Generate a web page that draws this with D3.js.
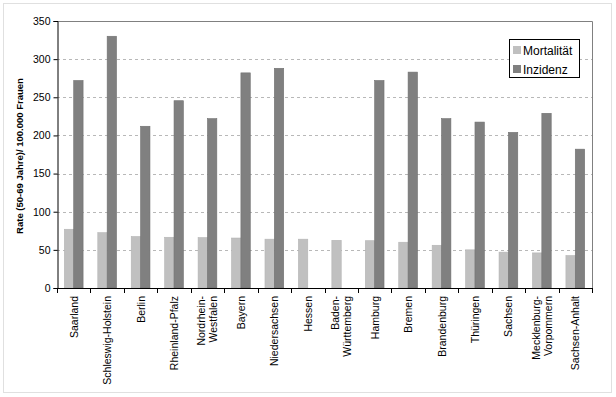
<!DOCTYPE html>
<html>
  <head>
    <meta charset="utf-8">
    <script src="https://d3js.org/d3.v7.min.js"></script>
    <style>
      body { margin: 0; background: #fff; }
      svg { font-family: "Liberation Sans", Arial, sans-serif; }
    </style>
  </head>
  <body>
    <div id="chart"></div>
    <script>
      // Bundesländer, ordered as in the source
      var categories = ["Saarland", "Schleswig-Holstein", "Berlin", "Rheinland-Pfalz",
        "Nordrhein-\nWestfalen", "Bayern", "Niedersachsen", "Hessen",
        "Baden-\nWürttemberg", "Hamburg", "Bremen", "Brandenburg", "Thüringen",
        "Sachsen", "Mecklenburg-\nVorpommern", "Sachsen-Anhalt"];
      var mortalitaet = [77, 72.5, 67.5, 66.5, 66, 65.5, 64, 64, 62.5, 62, 60, 56, 50, 47, 46, 42.5];
      // null = no incidence data
      var inzidenz = [272, 330, 212, 245.5, 222, 282, 288, null, null, 272, 283, 222, 217.5, 204, 229, 182];
      var seriesNames = ["Mortalität", "Inzidenz"];
      var yTicks = [0, 50, 100, 150, 200, 250, 300, 350];
      var yLabel = "Rate (50-69 Jahre)/ 100.000 Frauen";

      var W = 616, H = 397;
      // plot area (note: "top" is reserved on window, so use plot* names)
      var plotL = 57, plotR = 592, plotT = 21, plotB = 288;
      var colors = ["#c0c0c0", "#808080"];

      var svg = d3.select("#chart").append("svg").attr("width", W).attr("height", H);

      // outer chart border
      svg.append("rect").attr("x", 3.5).attr("y", 3.5).attr("width", 608).attr("height", 389)
        .attr("fill", "#fff").attr("stroke", "#e0e0e0");

      var x = d3.scaleBand().domain(d3.range(categories.length)).range([plotL, plotR]);
      var y = d3.scaleLinear().domain([0, 350]).range([plotB, plotT]);
      var barW = x.bandwidth() * 0.28;

      // grid lines
      svg.append("g").selectAll("line").data(yTicks.filter(function (t) { return t > 0 && t < 350; }))
        .enter().append("line")
        .attr("x1", plotL).attr("x2", plotR)
        .attr("y1", function (d) { return Math.round(y(d)) + 0.5; })
        .attr("y2", function (d) { return Math.round(y(d)) + 0.5; })
        .attr("stroke", "#b8b8b8").attr("stroke-dasharray", "3,3");

      // plot frame top/right
      svg.append("path")
        .attr("d", "M" + plotL + "," + (plotT + 0.5) + "H" + (plotR + 0.5) + "V" + plotB)
        .attr("fill", "none").attr("stroke", "#808080");

      var data = [];
      categories.forEach(function (c, i) {
        data.push({i: i, s: 0, v: mortalitaet[i]});
        if (inzidenz[i] != null) data.push({i: i, s: 1, v: inzidenz[i]});
      });

      svg.append("g").selectAll("rect").data(data).enter().append("rect")
        .attr("x", function (d) { return x(d.i) + x.bandwidth() / 2 - barW + d.s * barW; })
        .attr("y", function (d) { return y(d.v); })
        .attr("width", barW)
        .attr("height", function (d) { return plotB - y(d.v); })
        .attr("fill", function (d) { return colors[d.s]; })
        .attr("stroke", function (d) { return d.s ? "#707070" : "#b4b4b4"; })
        .attr("stroke-width", 0.6);

      // y axis
      var yAxis = svg.append("g").attr("transform", "translate(" + (plotL + 0.5) + ",0)")
        .call(d3.axisLeft(y).tickValues(yTicks).tickSize(4).tickPadding(3));
      yAxis.select(".domain").attr("stroke", "#000");
      yAxis.selectAll("line").attr("stroke", "#000");
      yAxis.selectAll("text").attr("font-size", 10.5).attr("fill", "#000")
        .attr("font-family", "Liberation Sans, Arial, sans-serif");

      // x axis line with ticks between categories
      svg.append("line").attr("x1", plotL).attr("x2", plotR + 1)
        .attr("y1", plotB + 0.5).attr("y2", plotB + 0.5).attr("stroke", "#000");
      svg.append("g").selectAll("line").data(d3.range(categories.length + 1)).enter().append("line")
        .attr("x1", function (i) { return Math.round(plotL + i * x.step()) + 0.5; })
        .attr("x2", function (i) { return Math.round(plotL + i * x.step()) + 0.5; })
        .attr("y1", plotB).attr("y2", plotB + 5).attr("stroke", "#000");

      // category labels, rotated
      var lab = svg.append("g").selectAll("text").data(categories).enter().append("text")
        .attr("transform", function (d, i) {
          return "translate(" + (x(i) + x.bandwidth() / 2) + "," + (plotB + 8) + ") rotate(-90)";
        })
        .attr("text-anchor", "end").attr("font-size", 10.5).attr("fill", "#000");
      lab.each(function (d) {
        var lines = d.split("\n");
        var t = d3.select(this);
        lines.forEach(function (ln, k) {
          t.append("tspan").attr("x", 0)
            .attr("y", (k - (lines.length - 1) / 2) * 12 + 4)
            .text(ln);
        });
      });

      // y label
      svg.append("text")
        .attr("transform", "translate(23," + 156 + ") rotate(-90)")
        .attr("text-anchor", "middle").attr("font-size", 9.5).attr("font-weight", "bold")
        .text(yLabel);

      // legend
      var lg = svg.append("g").attr("transform", "translate(509,39)");
      lg.append("rect").attr("x", 0.5).attr("y", 0.5).attr("width", 70).attr("height", 38)
        .attr("fill", "#fff").attr("stroke", "#000");
      seriesNames.forEach(function (n, k) {
        lg.append("rect").attr("x", 4).attr("y", 7 + k * 19).attr("width", 8).attr("height", 8)
          .attr("fill", colors[k]);
        lg.append("text").attr("x", 14).attr("y", 15.5 + k * 19)
          .attr("font-size", 12).text(n);
      });
    </script>
  </body>
</html>
